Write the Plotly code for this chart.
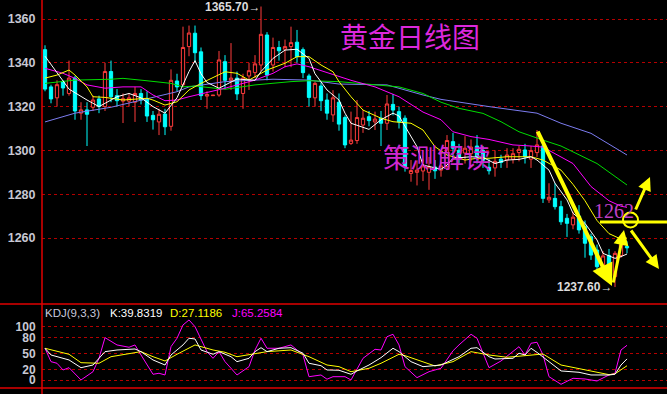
import plotly.graph_objects as go

# ---------------- data ----------------
open_ = [1346, 1329, 1324, 1331.5, 1326, 1333, 1317, 1318.5, 1319.7, 1323.5,
         1320, 1336, 1325, 1322.5, 1322.5, 1322, 1326, 1323.5, 1316, 1313,
         1316.6, 1311, 1331.7, 1330, 1347.4, 1353.5, 1345, 1324.8, 1325, 1325.3,
         1340.5, 1332, 1333, 1326, 1334, 1335.5, 1339, 1352.7, 1339, 1347,
         1346.2, 1347.4, 1349.4, 1346, 1334, 1324, 1329.4, 1323, 1316.2, 1322,
         1315, 1303.2, 1304.5, 1311.6, 1315.4, 1313, 1314.7, 1312.4, 1321, 1317.7,
         1314.7, 1289.5, 1290, 1290.6, 1290, 1292.4, 1291, 1292.6, 1304, 1300,
         1298.8, 1298.5, 1302, 1300, 1292.3, 1292, 1296, 1295.6, 1296, 1299,
         1300.2, 1296, 1299, 1302, 1277.4, 1278.1, 1274.3, 1269, 1266, 1270,
         1265.2, 1260.6, 1254.5, 1245.4, 1252, 1242.3, 1252, 1256.2]
high = [1348, 1330, 1332, 1332, 1341, 1334, 1322, 1322, 1325, 1325,
        1340, 1341, 1328, 1326, 1326, 1329, 1328, 1327, 1318, 1319,
        1319, 1337, 1335, 1356.5, 1357, 1357, 1347, 1327, 1325.3, 1345.4,
        1343.5, 1349, 1336, 1335, 1340, 1343.5, 1365.7, 1354, 1351.5, 1350,
        1350.6, 1356.5, 1355, 1347, 1335, 1331.5, 1331, 1326, 1327.5, 1326,
        1316, 1317.7, 1323, 1318.5, 1318, 1317.7, 1318, 1325.3, 1325.8, 1320,
        1316, 1295.6, 1295.5, 1296, 1297, 1295.6, 1295, 1307, 1308, 1303,
        1306.5, 1305, 1307, 1302, 1296, 1300, 1298, 1301, 1301, 1302,
        1303, 1302, 1309.3, 1303, 1285, 1285, 1277, 1271, 1272, 1275,
        1268, 1262, 1257, 1254, 1255, 1254, 1258, 1258.5]
low = [1327, 1321.5, 1320, 1325, 1325, 1314, 1314, 1302, 1318, 1317,
       1318, 1322, 1320, 1312.5, 1320, 1313, 1321, 1313, 1309.5, 1307,
       1307, 1309, 1327, 1329, 1343, 1340, 1323, 1319, 1324.9, 1324.5,
       1328, 1327.6, 1323, 1319, 1327.6, 1333, 1336, 1332, 1336, 1341,
       1338, 1338, 1340, 1333, 1320, 1320, 1318, 1314, 1313, 1309,
       1301, 1302.5, 1303, 1308, 1311, 1309.3, 1302, 1309.3, 1316, 1310,
       1290.3, 1285.7, 1284, 1286, 1282, 1287, 1288, 1291, 1296, 1294,
       1294, 1295, 1294, 1292, 1289, 1288, 1292, 1292, 1294, 1295,
       1294, 1292, 1297, 1276, 1276, 1273, 1266, 1260.5, 1264, 1262,
       1251, 1250, 1245, 1243, 1240, 1237.6, 1251, 1253]
close = [1328, 1323.5, 1330, 1328.5, 1333, 1318, 1318.5, 1316.5, 1323, 1320,
         1336, 1324.5, 1322.7, 1323.6, 1324, 1326, 1323, 1315.7, 1314, 1316.5,
         1310.8, 1332, 1329, 1347, 1353.6, 1344.6, 1325, 1325.5, 1325.2, 1341.3,
         1332, 1333, 1325.8, 1333, 1336.4, 1339.5, 1353, 1334.4, 1347, 1345.5,
         1347.4, 1349.2, 1342.8, 1335.5, 1324.2, 1330.6, 1322.7, 1317, 1324, 1312,
         1302.5, 1304.7, 1315, 1314.7, 1313.6, 1314.3, 1312.4, 1321.2, 1318.4, 1313,
         1292.6, 1290.8, 1291, 1292.9, 1292.5, 1290.7, 1292.9, 1304.5, 1301, 1297,
         1301, 1301.5, 1297, 1295.5, 1290.7, 1295, 1294.5, 1297.9, 1298.5, 1300.5,
         1297.1, 1299.9, 1302.5, 1278.1, 1278.6, 1274.3, 1267.4, 1266.7, 1269.5, 1263.7,
         1257.6, 1252.2, 1246.9, 1251.8, 1243, 1253, 1257, 1255.5]
day_idx = list(range(len(open_)))

ma5_idx = [0, 4, 7, 9, 12, 14, 16, 18, 20, 22, 24, 25, 26, 27, 29, 31, 32, 35, 36, 38,
           40, 42, 44, 45, 47, 49, 50, 51, 54, 56, 58, 59, 62, 63, 66, 67, 68, 71, 73, 75,
           77, 79, 81, 82, 84, 85, 87, 88, 90, 92, 93, 95, 96, 97]
ma5_val = [1343, 1328, 1323, 1320, 1324.5, 1326, 1324, 1320, 1317, 1324,
           1336, 1341, 1335, 1331, 1328.4, 1331.4, 1332.6, 1332, 1336, 1342,
           1345.8, 1346.2, 1342, 1335, 1327.6, 1323, 1317, 1312.4, 1309.6, 1314,
           1317, 1315.7, 1301.7, 1293.3, 1291.4, 1293.3, 1296.4, 1297.1, 1296.8, 1294,
           1295.6, 1295.9, 1297.1, 1295.6, 1291, 1285, 1277.4, 1271.3, 1266.7, 1259.1,
           1253, 1250.7, 1251.5, 1252.7]
ma10_idx = [0, 2, 4, 5, 7, 8, 10, 13, 17, 18, 20, 22, 24, 26, 30, 32, 34, 37, 40, 42,
            44, 46, 48, 49, 51, 53, 56, 58, 61, 63, 65, 67, 70, 72, 74, 77, 81, 83, 86, 88,
            90, 92, 94, 96, 97]
ma10_val = [1333, 1334.4, 1336.7, 1334.4, 1329, 1324.5, 1324.2, 1323, 1323.8, 1323,
            1320.7, 1322.2, 1327.6, 1330.6, 1335.9, 1335.2, 1332.1, 1336.7, 1339.8, 1342.8,
            1342.8, 1339, 1335.9, 1331.4, 1324.5, 1318.4, 1314.7, 1313.1, 1312.4, 1309.3,
            1301.7, 1297.9, 1295.6, 1296.4, 1296.4, 1297.1, 1297.1, 1295.6, 1291, 1284.5,
            1277, 1268, 1262, 1259.5, 1260]
ma20_idx = [0, 3, 5, 7, 10, 13, 16, 18, 20, 22, 24, 30, 35, 38, 40, 42, 44, 46, 49, 51,
            55, 59, 63, 66, 68, 71, 74, 78, 81, 83, 88, 91, 94, 96, 97]
ma20_val = [1337.5, 1335.2, 1332.9, 1329.9, 1328.4, 1329, 1329, 1325.3, 1322.7, 1323,
            1324.5, 1328.4, 1332.1, 1335.2, 1338.2, 1339.5, 1338.2, 1336.4, 1334, 1332,
            1329, 1324.5, 1317.5, 1314, 1308.5, 1306.3, 1305, 1302.5, 1302, 1301.5,
            1294, 1283.5, 1277, 1274.5, 1274]
ma40_idx = [0, 3, 5, 11, 13, 17, 21, 23, 25, 30, 35, 41, 44, 49, 59, 63, 66, 69, 73, 76,
            79, 83, 86, 92, 97]
ma40_val = [1330.6, 1331.4, 1332.1, 1332.5, 1332.9, 1331.8, 1330.6, 1329, 1329.4, 1327.9,
            1329.9, 1331.4, 1331.8, 1331.4, 1329, 1326, 1322, 1319.2, 1316.9, 1313.1,
            1308.5, 1304.7, 1302, 1294, 1284.2]
ma60_idx = [0, 5, 11, 16, 22, 24, 30, 38, 44, 49, 57, 63, 66, 74, 82, 86, 91, 97]
ma60_val = [1313, 1317, 1319.7, 1323, 1326.8, 1329, 1331.4, 1332.5, 1332.1, 1330.3,
            1329.9, 1325.3, 1323.3, 1320, 1317, 1312.4, 1307.8, 1297.9]

k_idx = [0, 1, 4, 6, 8, 10, 12, 15, 16, 18, 20, 21, 23, 24, 25, 26, 28, 29, 31, 32,
         34, 35, 36, 37, 39, 41, 43, 44, 46, 47, 49, 51, 52, 54, 56, 58, 59, 61, 63, 66,
         69, 71, 72, 74, 75, 78, 79, 80, 81, 82, 84, 86, 89, 91, 94, 95, 96, 97]
k_val = [59.7, 47.2, 37.9, 23.5, 28.5, 53.4, 56.5, 58.4, 53.4, 37.9,
         28.5, 47.2, 65.9, 78.4, 77, 56.5, 48.5, 53.4, 44, 34.7,
         41, 53.4, 60.8, 53.4, 59.7, 60.8, 50.4, 31.7, 27.2, 19.2,
         18.7, 11.2, 17.4, 28.5, 42.2, 59.7, 53.4, 34.7, 25.4, 28.5,
         44, 59.7, 60.8, 44, 39.7, 41, 50.4, 47.2, 59.7, 52,
         34.7, 17.4, 14.9, 9.9, 9.9, 11.2, 28.5, 39.8319]
d_idx = [0, 4, 6, 9, 11, 14, 16, 18, 20, 22, 25, 28, 30, 32, 35, 37, 41, 44, 47, 49,
         51, 54, 56, 59, 60, 63, 65, 68, 71, 74, 77, 80, 83, 86, 90, 94, 95, 96, 97]
d_val = [59.7, 48.5, 32.8, 31.7, 44, 50.4, 53.4, 44, 36, 48.5,
         65.9, 56.5, 52.2, 44, 50.4, 53.4, 56.5, 44, 28.5, 25.4,
         16, 22.4, 31.7, 48.5, 45.9, 34.7, 26.7, 34.7, 53.4, 47.2,
         42.9, 45.9, 49, 28.5, 19.2, 10.5, 12, 19.2, 27.1186]
j_idx = [0, 1, 2, 3, 4, 6, 8, 9, 10, 12, 14, 15, 16, 18, 19, 20, 21, 22, 23, 24,
         25, 27, 28, 29, 30, 32, 34, 35, 36, 37, 39, 41, 43, 44, 46, 47, 48, 50, 51, 53,
         55, 56, 57, 58, 59, 60, 62, 64, 66, 68, 69, 71, 72, 74, 76, 79, 80, 81, 82, 83,
         84, 86, 88, 90, 92, 94, 95, 96, 97]
j_val = [59.7, 34.7, 31.7, 19.2, 23.5, 0.6, 16, 41, 79.5, 65.9,
         61.6, 65.9, 47.2, 11.2, 13.1, 9.9, 62.7, 78.4, 103.2, 112.5,
         100, 53.4, 41, 53.4, 34.7, 9.9, 25.4, 56.5, 78.4, 59.7,
         59.7, 65.9, 47.2, 6.7, 9.9, 2, 6.7, 6.7, 0.6, 41,
         57.8, 56.5, 81.3, 85.8, 65.9, 25.4, 4.9, 16, 22.4, 55,
         66, 85.8, 78.4, 23.5, 36, 62.7, 47.2, 69, 70.9, 47.2,
         6.7, -7.5, 3.7, 2.4, -1.3, 9.9, 13.1, 56.5, 65.2584]

price_ticks = [1260, 1280, 1300, 1320, 1340, 1360]
kdj_ticks = [0, 20, 50, 80, 100]

# ---------------- layout helpers ----------------
W, H, L = 667, 394, 42


def px_x(x):
    return (x - L) / (W - L)


def px_y(y):
    return 1 - y / H


RED = "#ff3c3c"
CYAN = "#00ffff"
GRID = "#b40000"
AXIS = "#e00000"
TICKFONT = dict(family="Liberation Sans, Arial", size=12.5, color="#c8c8d4", weight="bold")
KDJFONT = dict(family="Liberation Sans, Arial", size=12, color="#c8c8d4", weight="bold")

fig = go.Figure()
fig.add_trace(go.Candlestick(
    x=day_idx, open=open_, high=high, low=low, close=close,
    increasing=dict(line=dict(color=RED, width=1), fillcolor="#000000"),
    decreasing=dict(line=dict(color=CYAN, width=1), fillcolor=CYAN),
    whiskerwidth=0, hoverinfo="skip", xaxis="x", yaxis="y"))

for xs, ys, col in [(ma60_idx, ma60_val, "#7c7cf0"), (ma40_idx, ma40_val, "#00dc00"),
                    (ma20_idx, ma20_val, "#ff00ff"), (ma10_idx, ma10_val, "#ffff00"),
                    (ma5_idx, ma5_val, "#ffffff")]:
    fig.add_trace(go.Scatter(x=xs, y=ys, mode="lines", line=dict(color=col, width=1),
                             hoverinfo="skip", xaxis="x", yaxis="y"))

for xs, ys, col in [(j_idx, j_val, "#ff00ff"), (d_idx, d_val, "#ffff00"), (k_idx, k_val, "#ffffff")]:
    fig.add_trace(go.Scatter(x=xs, y=ys, mode="lines", line=dict(color=col, width=1),
                             hoverinfo="skip", xaxis="x", yaxis="y2"))

x_lo = (L - 45) / 6
x_hi = (W - 45) / 6
p_top = 1360 + 19 / 2.19
p_bot = 1360 - (304 - 19) / 2.19

fig.update_layout(
    width=W, height=H, margin=dict(l=L, r=0, t=0, b=0),
    paper_bgcolor="#000000", plot_bgcolor="#000000", showlegend=False, boxgap=0.22,
    xaxis=dict(range=[x_lo, x_hi], visible=False, rangeslider=dict(visible=False)),
    yaxis=dict(domain=[px_y(304), 1], range=[p_bot, p_top], tickvals=price_ticks,
               showgrid=True, gridcolor=GRID, griddash="dot", gridwidth=1, zeroline=False,
               ticks="outside", ticklen=3, tickcolor="rgba(0,0,0,0)", tickfont=TICKFONT,
               anchor="x"),
    yaxis2=dict(domain=[px_y(388), px_y(305)], range=[-14.4, 140.4], tickvals=kdj_ticks,
                showgrid=True, gridcolor=GRID, griddash="dot", gridwidth=1, zeroline=False,
                ticks="outside", ticklen=3, tickcolor="rgba(0,0,0,0)", tickfont=KDJFONT,
                anchor="x"),
)

shapes = [
    dict(type="line", xref="paper", yref="paper", x0=0, x1=0, y0=0, y1=1,
         line=dict(color=AXIS, width=1.5)),
    dict(type="line", xref="paper", yref="paper", x0=px_x(0), x1=1, y0=px_y(304), y1=px_y(304),
         line=dict(color=AXIS, width=1.5)),
    dict(type="line", xref="paper", yref="paper", x0=px_x(0), x1=1, y0=px_y(388), y1=px_y(388),
         line=dict(color=AXIS, width=1.5)),
    # yellow horizontal level line and circle
    dict(type="line", xref="paper", yref="paper", x0=px_x(600), x1=1, y0=px_y(222), y1=px_y(222),
         line=dict(color="#ffff00", width=3)),
    dict(type="circle", xref="paper", yref="paper", x0=px_x(623), x1=px_x(638),
         y0=px_y(227.5), y1=px_y(212.5), line=dict(color="#ffff00", width=2)),
]
fig.update_layout(shapes=shapes)


def arrow(x0, y0, x1, y1, w=3, size=1.0):
    return dict(xref="paper", yref="paper", axref="pixel", ayref="pixel",
                x=px_x(x1), y=px_y(y1), ax=x0 - x1, ay=y0 - y1, text="", showarrow=True,
                arrowhead=2, arrowsize=size, arrowwidth=w, arrowcolor="#ffff00", standoff=0)


def label(text, x, y, size, color, family="Liberation Sans, Arial", xanchor="left", weight="normal"):
    return dict(xref="paper", yref="paper", x=px_x(x), y=px_y(y), text=text, showarrow=False,
                xanchor=xanchor, yanchor="middle",
                font=dict(family=family, size=size, color=color, weight=weight))


annotations = [
    arrow(537, 130, 612, 286, 4, 1.1),
    arrow(613, 284, 624, 230, 3, 1.0),
    arrow(635, 211, 650, 177, 3, 0.9),
    arrow(630, 229, 659, 269, 3, 0.9),
    label("黄金日线图", 410, 36, 28, "#dc28dc", "Noto Sans CJK SC", "center"),
    label("策测解读", 437, 156, 27, "#d028d0", "Noto Sans CJK SC", "center"),
    label("1262", 614, 211, 20, "#c040c8", "Liberation Serif, Times New Roman", "center"),
    label("1365.70→", 203, 7, 12, "#dcdcdc", weight="bold"),
    label("1237.60→", 614, 287, 12, "#dcdcdc", xanchor="right", weight="bold"),
    label("KDJ(9,3,3)", 43, 313, 11.5, "#c8c8dc"),
    label("K:39.8319", 108, 313, 11.5, "#ffffff"),
    label("D:27.1186", 168, 313, 11.5, "#ffff00"),
    label("J:65.2584", 230, 313, 11.5, "#ff00ff"),
]
fig.update_layout(annotations=annotations)

fig.write_html("out.html")
